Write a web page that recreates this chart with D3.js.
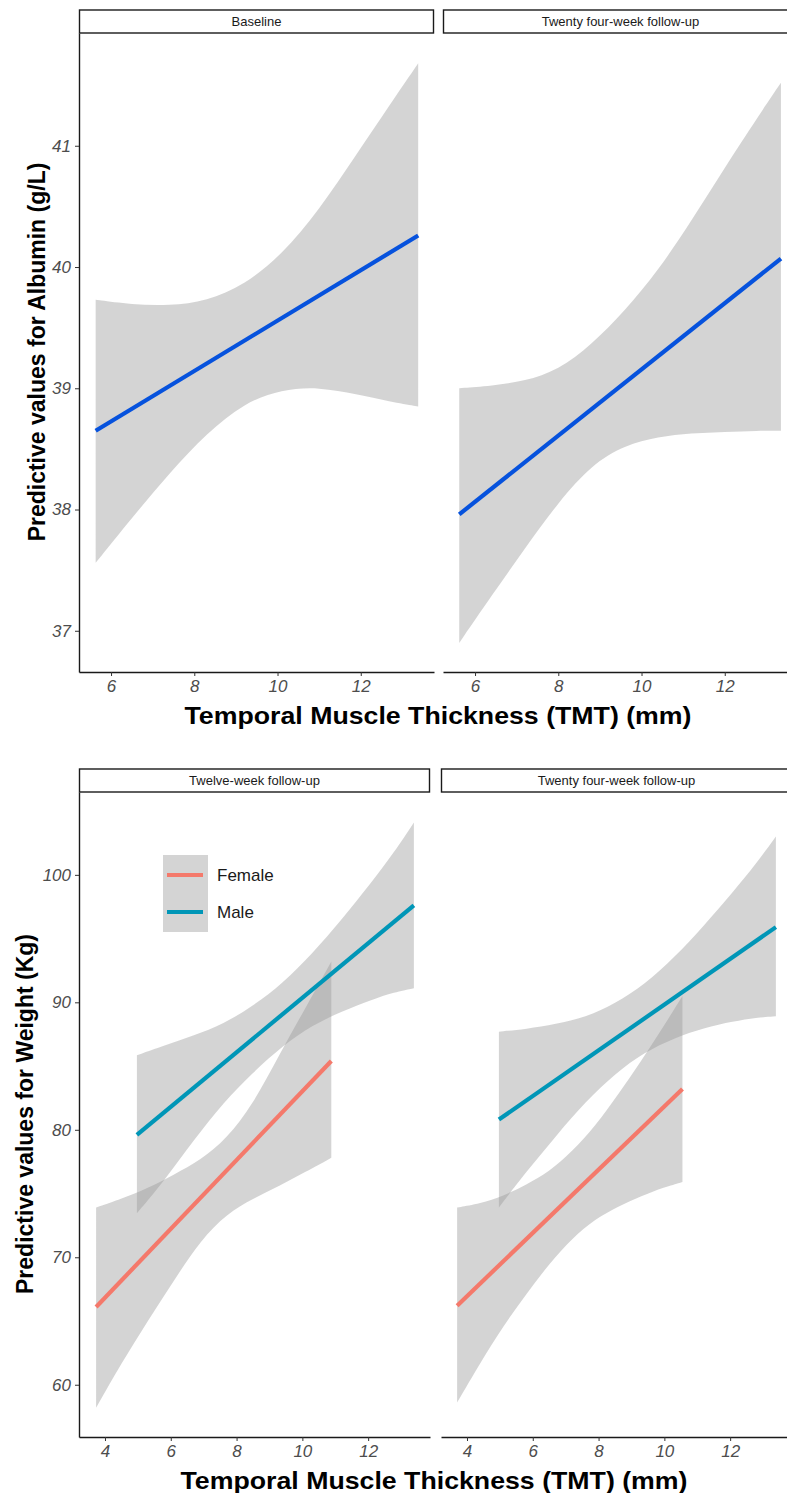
<!DOCTYPE html>
<html>
<head>
<meta charset="utf-8">
<script src="https://cdn.jsdelivr.net/npm/d3@7"></script>
<style>
  body { margin: 0; background: #fff; }
  svg { display: block; font-family: "Liberation Sans", Arial, sans-serif; }
</style>
</head>
<body>
<div class="chart"></div>
<script>
// page size
const WIDTH = 787;
const HEIGHT = 1493;

// texts
const xTitle = "Temporal Muscle Thickness (TMT) (mm)";
const albTitle = "Predictive values for Albumin (g/L)";
const wtTitle = "Predictive values for Weight (Kg)";
const albPanels = ["Baseline", "Twenty four-week follow-up"];
const wtPanels = ["Twelve-week follow-up", "Twenty four-week follow-up"];
const sexes = ["Female", "Male"];

// ticks
const albYTicks = [37, 38, 39, 40, 41];
const albXTicks = [6, 8, 10, 12];
const wtYTicks = [60, 70, 80, 90, 100];
const wtXTicks = [4, 6, 8, 10, 12];

// albumin, baseline
const albBaseX  = [5.63, 6.5, 7.4, 8.3, 9.2, 10.1, 11.0, 11.9, 12.7, 13.38];
const albBaseHi = [39.73, 39.69, 39.68, 39.72, 39.85, 40.10, 40.47, 40.93, 41.34, 41.68];
const albBaseLo = [37.56, 37.93, 38.30, 38.63, 38.88, 38.99, 39.01, 38.95, 38.89, 38.85];
const albBaseFit = [38.65, 40.26];

// albumin, 24 weeks
const alb24X  = [5.62, 6.4, 7.2, 8.0, 8.8, 9.6, 10.4, 11.2, 12.0, 12.8, 13.35];
const alb24Hi = [39.00, 39.02, 39.06, 39.15, 39.36, 39.64, 39.97, 40.38, 40.82, 41.24, 41.52];
const alb24Lo = [36.90, 37.29, 37.68, 38.06, 38.37, 38.53, 38.60, 38.63, 38.64, 38.65, 38.65];
const alb24Fit = [37.96, 40.07];

// weight, 12 weeks
const wt12FemX  = [3.73, 4.5, 5.3, 6.1, 6.9, 7.7, 8.5, 9.3, 10.1, 10.88];
const wt12FemHi = [73.9, 74.6, 75.4, 76.5, 77.6, 79.3, 82.0, 85.9, 89.6, 93.2];
const wt12FemLo = [58.2, 61.7, 65.0, 68.2, 71.3, 73.4, 74.6, 75.6, 76.7, 77.8];
const wt12FemFit = [66.1, 85.4];
const wt12MaleX  = [4.97, 5.8, 6.7, 7.6, 8.5, 9.4, 10.3, 11.2, 12.1, 12.8, 13.39];
const wt12MaleHi = [85.85, 86.6, 87.4, 88.3, 89.7, 91.5, 93.8, 96.5, 99.4, 101.8, 104.1];
const wt12MaleLo = [73.45, 76.0, 79.2, 82.15, 84.5, 86.6, 88.2, 89.3, 90.2, 90.8, 91.1];
const wt12MaleFit = [79.6, 97.6];

// weight, 24 weeks
const wt24FemX  = [3.7, 4.4, 5.1, 5.8, 6.5, 7.2, 7.9, 8.6, 9.3, 10.0, 10.55];
const wt24FemHi = [73.9, 74.2, 74.8, 75.7, 76.7, 78.3, 80.3, 82.8, 85.4, 88.2, 90.5];
const wt24FemLo = [58.6, 61.7, 64.6, 67.1, 69.5, 71.5, 73.0, 74.0, 74.8, 75.5, 75.9];
const wt24FemFit = [66.2, 83.2];
const wt24MaleX  = [4.97, 5.8, 6.7, 7.6, 8.5, 9.4, 10.3, 11.2, 12.1, 12.8, 13.39];
const wt24MaleHi = [87.7, 87.9, 88.3, 88.8, 89.9, 91.4, 93.5, 96.0, 98.7, 100.9, 103.0];
const wt24MaleLo = [73.9, 76.7, 79.5, 82.2, 84.4, 86.1, 87.2, 88.0, 88.5, 88.8, 88.9];
const wt24MaleFit = [80.8, 95.9];

const BLUE = "#0652DD";
const sexColor = d3.scaleOrdinal().domain(sexes).range(["#F4796B", "#0096B7"]);

// scales
const albY = d3.scaleLinear().domain([36.66, 41.93]).range([672, 33]);
const albX = [
    d3.scaleLinear().domain([5.23, 13.76]).range([79, 434]),
    d3.scaleLinear().domain([5.23, 13.76]).range([443, 798])
];
const wtY = d3.scaleLinear().domain([55.9, 106.5]).range([1437, 792]);
const wtX = [
    d3.scaleLinear().domain([3.21, 13.88]).range([79, 430]),
    d3.scaleLinear().domain([3.21, 13.88]).range([441, 792])
];

function toRows(xs, lo, hi) {
    return xs.map((x, i) => ({x: x, lo: lo[i], hi: hi[i]}));
}

const albSeries = [
    [{rows: toRows(albBaseX, albBaseLo, albBaseHi), fit: albBaseFit, color: BLUE}],
    [{rows: toRows(alb24X, alb24Lo, alb24Hi), fit: alb24Fit, color: BLUE}]
];
const wtSeries = [
    [
        {rows: toRows(wt12FemX, wt12FemLo, wt12FemHi), fit: wt12FemFit, color: sexColor("Female")},
        {rows: toRows(wt12MaleX, wt12MaleLo, wt12MaleHi), fit: wt12MaleFit, color: sexColor("Male")}
    ],
    [
        {rows: toRows(wt24FemX, wt24FemLo, wt24FemHi), fit: wt24FemFit, color: sexColor("Female")},
        {rows: toRows(wt24MaleX, wt24MaleLo, wt24MaleHi), fit: wt24MaleFit, color: sexColor("Male")}
    ]
];

const svg = d3.select(".chart")
    .append("svg")
    .attr("width", WIDTH)
    .attr("height", HEIGHT);

function drawFigure(opts) {
    const g = svg.append("g");
    opts.xs.forEach((x, p) => {
        const [x0, x1] = x.range();
        const [yb, yt] = opts.y.range();

        // strip
        g.append("rect")
            .attr("x", x0 + 0.5).attr("y", opts.stripTop)
            .attr("width", x1 - x0 - 1).attr("height", yt - opts.stripTop)
            .attr("fill", "#fff").attr("stroke", "#1a1a1a").attr("stroke-width", 1.4);
        g.append("text")
            .attr("x", (x0 + x1) / 2).attr("y", (opts.stripTop + yt) / 2 + 4.5)
            .attr("text-anchor", "middle")
            .style("font-size", "13px").style("fill", "#1a1a1a")
            .text(opts.panels[p]);

        // ribbons then lines
        const area = d3.area()
            .curve(d3.curveBasis)
            .x(d => x(d.x)).y0(d => opts.y(d.lo)).y1(d => opts.y(d.hi));
        opts.series[p].forEach(s => {
            g.append("path").attr("d", area(s.rows))
                .attr("fill", "#999999").attr("fill-opacity", 0.42);
        });
        opts.series[p].forEach(s => {
            const xa = s.rows[0].x, xb = s.rows[s.rows.length - 1].x;
            g.append("line")
                .attr("x1", x(xa)).attr("y1", opts.y(s.fit[0]))
                .attr("x2", x(xb)).attr("y2", opts.y(s.fit[1]))
                .attr("stroke", s.color).attr("stroke-width", 4.2);
        });

        // x axis
        const ax = g.append("g")
            .attr("transform", `translate(0,${yb})`)
            .call(d3.axisBottom(x).tickValues(opts.xTicks).tickFormat(d3.format("d"))
                .tickSize(4).tickSizeOuter(0).tickPadding(4.2));
        styleAxis(ax);

        // y axis only on first panel
        if (p === 0) {
            const ay = g.append("g")
                .attr("transform", `translate(${x0},0)`)
                .call(d3.axisLeft(opts.y).tickValues(opts.yTicks).tickFormat(d3.format("d"))
                    .tickSize(4).tickSizeOuter(0).tickPadding(4));
            styleAxis(ay);
        }
    });

    g.append("text")
        .attr("transform", `translate(${opts.yTitlePos[0]},${opts.yTitlePos[1]}) rotate(-90)`)
        .attr("text-anchor", "middle")
        .style("font-size", "23px").style("font-weight", "bold").style("fill", "#000")
        .text(opts.yTitle);
    g.append("text")
        .attr("x", opts.xTitlePos[0]).attr("y", opts.xTitlePos[1])
        .attr("text-anchor", "middle")
        .attr("textLength", 507).attr("lengthAdjust", "spacingAndGlyphs")
        .style("font-size", "24px").style("font-weight", "bold").style("fill", "#000")
        .text(xTitle);
    return g;
}

function styleAxis(a) {
    a.select(".domain").attr("stroke", "#1a1a1a").attr("stroke-width", 1.4);
    a.selectAll(".tick line").attr("stroke", "#333").attr("stroke-width", 1);
    a.selectAll(".tick text")
        .style("font-family", "'Liberation Sans', Arial, sans-serif")
        .style("font-size", "17px").style("font-style", "italic").style("fill", "#4D4D4D");
}

drawFigure({
    xs: albX, y: albY, series: albSeries, panels: albPanels,
    xTicks: albXTicks, yTicks: albYTicks, stripTop: 10,
    yTitle: albTitle, yTitlePos: [45, 352], xTitlePos: [438, 724]
});

const wtFig = drawFigure({
    xs: wtX, y: wtY, series: wtSeries, panels: wtPanels,
    xTicks: wtXTicks, yTicks: wtYTicks, stripTop: 769,
    yTitle: wtTitle, yTitlePos: [33, 1114], xTitlePos: [434, 1489]
});

// legend inside twelve-week panel
const legend = wtFig.append("g").attr("transform", "translate(163,855)");
legend.append("rect")
    .attr("width", 45).attr("height", 77)
    .attr("fill", "#999999").attr("fill-opacity", 0.42);
const items = legend.selectAll("g.item")
    .data(sexes)
    .join("g")
    .attr("class", "item")
    .attr("transform", (d, i) => `translate(0,${20 + i * 37})`);
items.append("line")
    .attr("x1", 4).attr("x2", 40)
    .attr("stroke", d => sexColor(d)).attr("stroke-width", 4.2);
items.append("text")
    .attr("x", 54).attr("y", 6)
    .style("font-size", "17px").style("fill", "#1a1a1a")
    .text(d => d);
</script>
</body>
</html>
